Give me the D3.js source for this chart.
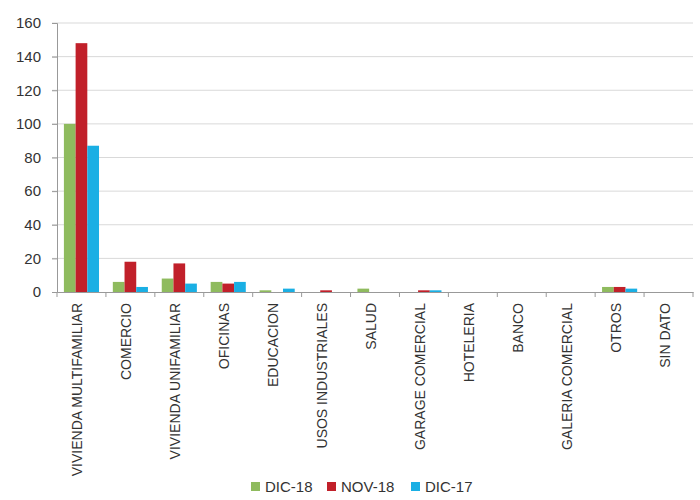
<!DOCTYPE html>
<html lang="es">
<head>
<meta charset="UTF-8">
<title>Destinos</title>
<script src="https://d3js.org/d3.v7.min.js"></script>
<style>
  body { margin: 0; background: #fff; }
  text { font-family: "Liberation Sans", Arial, sans-serif; fill: #333; }
</style>
</head>
<body>
<svg id="chart"></svg>
<script>
const categories = ["VIVIENDA MULTIFAMILIAR", "COMERCIO", "VIVIENDA UNIFAMILIAR", "OFICINAS",
  "EDUCACION", "USOS INDUSTRIALES", "SALUD", "GARAGE COMERCIAL", "HOTELERIA", "BANCO",
  "GALERIA COMERCIAL", "OTROS", "SIN DATO"];
const seriesNames = ["DIC-18", "NOV-18", "DIC-17"];
const dic18 = [100, 6, 8, 6, 1, 0, 2, 0, 0, 0, 0, 3, 0];
const nov18 = [148, 18, 17, 5, 0, 1, 0, 1, 0, 0, 0, 3, 0];
const dic17 = [87, 3, 5, 6, 2, 0, 0, 1, 0, 0, 0, 2, 0];
const yTicks = [0, 20, 40, 60, 80, 100, 120, 140, 160];
const colors = ["#8fbb5e", "#c1202a", "#1aafe4"];

const width = 700, height = 500;
const margin = { top: 23, right: 7, bottom: 208, left: 57 };
const svg = d3.select("#chart").attr("width", width).attr("height", height);

const x = d3.scaleBand().domain(categories)
  .range([margin.left, width - margin.right]).paddingInner(0).paddingOuter(0);
const x1 = d3.scaleBand().domain(seriesNames)
  .range([0, x.bandwidth()]).paddingInner(0).paddingOuter(0.59);
const y = d3.scaleLinear().domain([0, 160]).range([height - margin.bottom, margin.top]);

// grid
svg.append("g").selectAll("line").data(yTicks.filter(d => d > 0)).join("line")
  .attr("x1", margin.left - 5).attr("x2", width - margin.right)
  .attr("y1", d => y(d)).attr("y2", d => y(d))
  .attr("stroke", "#d9d9d9").attr("stroke-width", 1);

// y axis
const yAxis = svg.append("g").attr("transform", `translate(${margin.left},0)`)
  .call(d3.axisLeft(y).tickValues(yTicks).tickSize(5).tickPadding(11));
yAxis.select(".domain").attr("stroke", "#999");
yAxis.selectAll(".tick line").attr("stroke", "#999");
yAxis.selectAll("text").attr("font-size", 15).style("fill", "#333");

// bars
const series = [dic18, nov18, dic17];
const groups = svg.append("g").selectAll("g").data(categories).join("g")
  .attr("transform", d => `translate(${x(d)},0)`);
groups.selectAll("rect")
  .data((d, i) => seriesNames.map((s, j) => ({ s, v: series[j][i], c: colors[j] })))
  .join("rect")
  .attr("x", d => x1(d.s)).attr("width", x1.bandwidth())
  .attr("y", d => y(d.v)).attr("height", d => y(0) - y(d.v))
  .attr("fill", d => d.c);

// x axis
const xAxis = svg.append("g").attr("transform", `translate(0,${y(0)})`)
  .call(d3.axisBottom(x).tickSize(0).tickSizeOuter(0));
xAxis.select(".domain").attr("stroke", "#999");
xAxis.selectAll("text")
  .attr("font-size", 14).style("fill", "#333")
  .attr("transform", "rotate(-90)")
  .attr("text-anchor", "end").attr("dominant-baseline", "central")
  .attr("x", -11).attr("y", -4).attr("dy", null);
svg.append("g").selectAll("line").data(d3.range(categories.length + 1)).join("line")
  .attr("x1", i => margin.left + i * x.step()).attr("x2", i => margin.left + i * x.step())
  .attr("y1", y(0)).attr("y2", y(0) + 5)
  .attr("stroke", "#999");

// legend
const legend = svg.append("g").attr("transform", `translate(0,${height - 14})`);
const lx = [251, 327, 411];
seriesNames.forEach((s, i) => {
  legend.append("rect").attr("x", lx[i]).attr("y", -4).attr("width", 9).attr("height", 9)
    .attr("fill", colors[i]);
  legend.append("text").attr("x", lx[i] + 14).attr("y", 0)
    .attr("dominant-baseline", "central").attr("font-size", 15).text(s);
});
</script>
</body>
</html>
